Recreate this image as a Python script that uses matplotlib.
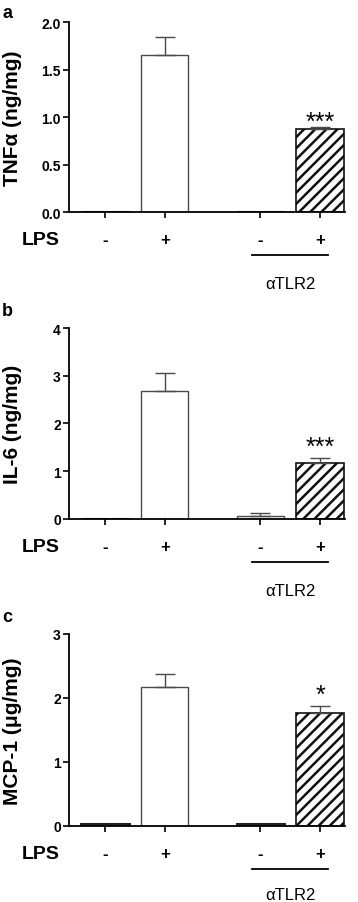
import numpy as np
import matplotlib
matplotlib.use("Agg")
import matplotlib.pyplot as plt
from matplotlib.transforms import blended_transform_factory

plt.rcParams['font.family'] = ['Liberation Sans', 'DejaVu Sans']
plt.rcParams['hatch.linewidth'] = 1.8

# data
groups = ["-", "+", "-", "+"]
positions = [0, 1, 2.6, 3.6]
tnf_vals = [0.0, 1.65, 0.0, 0.875]
tnf_errs = [0.0, 0.19, 0.0, 0.02]
il6_vals = [0.0, 2.69, 0.05, 1.17]
il6_errs = [0.0, 0.36, 0.07, 0.10]
mcp_vals = [0.03, 2.17, 0.02, 1.76]
mcp_errs = [0.0, 0.21, 0.0, 0.11]
stars = ["", "", "", "***"]
stars_c = ["", "", "", "*"]

panels = [
    ("a", "TNF\u03b1 (ng/mg)", tnf_vals, tnf_errs, stars, [0, 0.5, 1.0, 1.5, 2.0], "%.1f", 2.0),
    ("b", "IL-6 (ng/mg)", il6_vals, il6_errs, stars, [0, 1, 2, 3, 4], "%d", 4),
    ("c", "MCP-1 (\u03bcg/mg)", mcp_vals, mcp_errs, stars_c, [0, 1, 2, 3], "%d", 3),
]
# axes rects in figure fraction
rects = [
    [0.193, 0.7641, 0.771, 0.2104],
    [0.193, 0.4245, 0.771, 0.2109],
    [0.193, 0.0845, 0.771, 0.2123],
]
label_y = [0.995, 0.664, 0.326]
star_off = [-1, 3, 3]

fig = plt.figure(figsize=(3.58, 9.03), dpi=100)
edge = "#4a4a4a"

for i, (lab, ylab, vals, errs, st, yt, fmt, ymax) in enumerate(panels):
    ax = fig.add_axes(rects[i])
    hatches = ["", "", "", "///"]
    for p, v, e, h in zip(positions, vals, errs, hatches):
        if h:
            ec, lw = "#111111", 1.2
        elif v > 0.04:
            ec, lw = edge, 1.0
        else:
            ec, lw = "#222222", 2.2
        ax.bar(p, v, width=0.79, color="white", edgecolor=ec,
               linewidth=lw, hatch=h, zorder=2)
        if e > 0:
            ax.errorbar(p, v, yerr=[[0], [e]], fmt="none", ecolor=edge,
                        elinewidth=1.0, capsize=7, capthick=1.0, zorder=3)
    for p, v, e, s in zip(positions, vals, errs, st):
        if s:
            ax.annotate(s, (p, v + e), xytext=(0, star_off[i]), textcoords="offset points",
                        ha="center", va="baseline", fontsize=18)
    ax.set_xlim(-0.6, 4.02)
    ax.set_ylim(0, ymax)
    ax.set_yticks(yt)
    ax.set_yticklabels([fmt % t for t in yt], fontsize=10, fontweight="bold")
    ax.set_xticks(positions)
    ax.set_xticklabels([])
    ax.tick_params(axis="x", length=4.5, width=1.2, direction="out")
    ax.tick_params(axis="y", length=4, width=1.2, direction="out", pad=2)
    for sp in ["top", "right"]:
        ax.spines[sp].set_visible(False)
    for sp in ["left", "bottom"]:
        ax.spines[sp].set_linewidth(1.3)
    ax.set_ylabel(ylab, fontsize=15, fontweight="bold")
    ax.yaxis.set_label_coords(-0.17, 0.5)

    tr = blended_transform_factory(ax.transData, ax.transAxes)
    ax.text(-1.08, -0.145, "LPS", transform=tr, ha="center", va="center",
            fontsize=14, fontweight="bold", clip_on=False)
    for p, g in zip(positions, groups):
        ax.text(p, -0.145, g, transform=tr, ha="center", va="center",
                fontsize=12, fontweight="bold", clip_on=False)
    ax.plot([positions[2] - 0.14, positions[3] + 0.13], [-0.228, -0.228],
            color="black", lw=1.3, transform=tr, clip_on=False)
    ax.text((positions[2] + positions[3]) / 2, -0.378 if i < 2 else -0.36,
            "\u03b1TLR2", transform=tr, ha="center", va="center", fontsize=12,
            clip_on=False)

    fig.text(0.02, label_y[i], lab, ha="center", va="top", fontsize=13,
             fontweight="bold")

fig.savefig("out.png", dpi=100)
